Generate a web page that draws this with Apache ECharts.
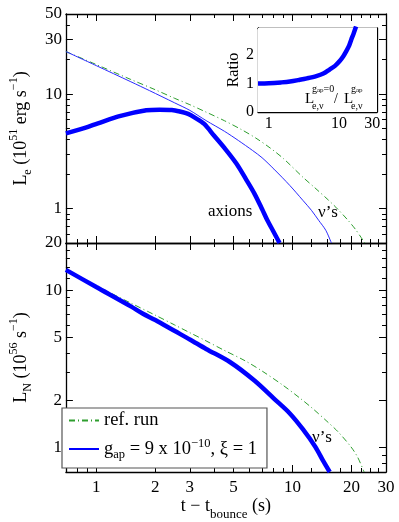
<!DOCTYPE html>
<html>
<head>
<meta charset="utf-8">
<script src="https://cdn.jsdelivr.net/npm/echarts@6/dist/echarts.min.js"></script>
<style>
  html, body { margin: 0; padding: 0; background: #fff; }
  #chart { width: 399px; height: 522px; }
</style>
</head>
<body>
<div id="chart"></div>
<script>
// upper panel: electron luminosity, 10^51 erg/s
const refTopT = [0.7, 1, 1.5, 2, 2.5, 3, 3.6, 4.5, 5.5, 6.5, 7.7, 9, 11.3, 13, 15.3, 17, 19.2, 21, 23.4];
const refTopL = [23.5, 18.1, 13.4, 10.9, 9.2, 8.07, 7.0, 5.85, 4.89, 4.13, 3.38, 2.73, 1.88, 1.52, 1.18, 0.99, 0.79, 0.655, 0.5];
const nuTopT = [0.7, 1, 1.5, 1.87, 2.5, 3, 3.63, 4.5, 5.3, 6.27, 7, 8.05, 9.7, 11.3, 12.5, 13.6, 14.8, 15.8];
const nuTopL = [23.5, 17.7, 12.8, 10.7, 8.4, 7.2, 5.86, 4.73, 3.93, 3.21, 2.78, 2.21, 1.59, 1.18, 0.965, 0.79, 0.645, 0.5];
const axTopT = [0.7, 0.875, 1.02, 1.33, 1.8, 2.1, 2.43, 2.7, 2.94, 3.18, 3.55, 3.98, 4.54, 5.19, 5.8, 6.4, 7.0, 7.45, 8.0, 8.6];
const axTopL = [4.54, 5.06, 5.55, 6.45, 7.21, 7.3, 7.26, 7.0, 6.7, 6.22, 5.48, 4.34, 3.32, 2.46, 1.8, 1.35, 0.99, 0.79, 0.63, 0.5];

// lower panel: number luminosity, 10^56 /s
const refBotT = [0.7, 1, 1.5, 2, 2.5, 3, 3.63, 4.5, 5.73, 7, 9, 11, 12.7, 15, 17.1, 19.9, 21.5, 23.2];
const refBotL = [13.5, 10.7, 8.3, 6.95, 6.04, 5.38, 4.77, 4.15, 3.57, 3.07, 2.48, 2.05, 1.77, 1.47, 1.26, 1.01, 0.87, 0.7];
const gapBotT = [0.7, 1, 1.5, 1.73, 2, 2.5, 3, 3.63, 4.82, 6.4, 8.05, 9.7, 11.3, 13.1, 14.3, 15.5];
const gapBotL = [13.5, 10.5, 7.91, 7.1, 6.47, 5.53, 4.87, 4.24, 3.49, 2.67, 2.05, 1.65, 1.31, 1.01, 0.83, 0.7];

// inset: ratio ref / axion run
const ratioT = [0.7, 1, 1.5, 2, 2.76, 3.5, 4.76, 6, 7.36, 8.8, 10.2, 11.5, 12.7, 14, 15, 16.2, 17.3, 17.6];
const ratioV = [1.0, 1.01, 1.04, 1.07, 1.13, 1.18, 1.26, 1.35, 1.49, 1.62, 1.78, 1.95, 2.13, 2.33, 2.54, 2.75, 2.95, 3.0];

// ticks
const xLabels = [1, 2, 3, 5, 10, 20, 30];
const xMajor = [1, 2, 3, 5, 10, 20];
const xMinor = [0.8, 0.9, 4, 6, 7, 8, 9, 12.5, 15, 17.5, 22.5, 25, 27.5];
const topYLabels = [1, 10, 30, 50];
const topYMajor = [1, 10, 30];
const topYMinor = [0.6, 0.7, 0.8, 0.9, 2, 3, 4, 5, 6, 7, 8, 9, 20, 40];
const botYLabels = [1, 2, 5, 10, 20];
const botYMajor = [1, 2, 5, 10];
const botYMinor = [0.8, 0.9, 3, 4, 6, 7, 8, 9, 12, 14, 16, 18];
const inXLabels = [1, 10, 30];
const inXMajor = [1, 10, 30];
const inXMinor = [0.8, 0.9, 2, 3, 4, 5, 6, 7, 8, 9, 20];
const inYLabels = [0, 1, 2];
const inYMajor = [1, 2];

const serif = 'Liberation Serif';
const green = '#2e9e2e';
const blue = '#0000ff';

const pts = (t, v) => t.map((x, i) => [x, v[i]]);

function ax(type, grid, pos, min, max, ticks, len, showLine, labels, fs) {
  return {
    type: type, gridIndex: grid, position: pos, min: min, max: max,
    axisLine: {show: showLine, onZero: false, lineStyle: {color: '#000', width: 1.3}},
    axisTick: {show: true, inside: true, length: len, customValues: ticks, lineStyle: {color: '#000', width: 1}},
    axisLabel: labels ? {
      show: true, customValues: labels, margin: 4, color: '#000',
      fontFamily: serif, fontSize: fs || 17, formatter: v => String(v)
    } : {show: false},
    splitLine: {show: false}
  };
}

const xAxes = [
  ax('log', 0, 'bottom', 0.7, 30, xMajor, 7, true),
  ax('log', 0, 'bottom', 0.7, 30, xMinor, 4, false),
  ax('log', 0, 'top', 0.7, 30, xMajor, 7, true),
  ax('log', 0, 'top', 0.7, 30, xMinor, 4, false),
  ax('log', 1, 'bottom', 0.7, 30, xMajor, 7, true, xLabels),
  ax('log', 1, 'bottom', 0.7, 30, xMinor, 4, false),
  ax('log', 1, 'top', 0.7, 30, xMajor, 7, true),
  ax('log', 1, 'top', 0.7, 30, xMinor, 4, false),
  ax('log', 2, 'bottom', 0.7, 35, inXMajor, 5, true, inXLabels, 16),
  ax('log', 2, 'bottom', 0.7, 35, inXMinor, 3, false),
  ax('log', 2, 'top', 0.7, 35, inXMajor, 5, true)
];
xAxes[4].axisLabel.margin = 7;
xAxes[4].name = '{b|t − t}{s|bounce}{b| (s)}';
xAxes[4].nameLocation = 'middle';
xAxes[4].nameGap = 23;
xAxes[4].nameTextStyle = {
  fontFamily: serif, color: '#000',
  rich: {
    b: {fontFamily: serif, fontSize: 18, color: '#000', lineHeight: 22},
    s: {fontFamily: serif, fontSize: 13, color: '#000', verticalAlign: 'bottom', lineHeight: 22, padding: [0, 0, -4, 0]}
  }
};

const yAxes = [
  ax('log', 0, 'left', 0.5, 50, topYMajor, 7, true, topYLabels),
  ax('log', 0, 'left', 0.5, 50, topYMinor, 4, false),
  ax('log', 0, 'right', 0.5, 50, topYMajor, 7, true),
  ax('log', 0, 'right', 0.5, 50, topYMinor, 4, false),
  ax('log', 1, 'left', 0.7, 20, botYMajor, 7, true, botYLabels),
  ax('log', 1, 'left', 0.7, 20, botYMinor, 4, false),
  ax('log', 1, 'right', 0.7, 20, botYMajor, 7, true),
  ax('log', 1, 'right', 0.7, 20, botYMinor, 4, false),
  ax('value', 2, 'left', 0, 2.95, inYMajor, 5, true, inYLabels, 16),
  ax('value', 2, 'right', 0, 2.95, inYMajor, 5, true)
];

const titleRich = {
  b: {fontFamily: serif, fontSize: 18, color: '#000', lineHeight: 26},
  s: {fontFamily: serif, fontSize: 12, color: '#000', verticalAlign: 'bottom', lineHeight: 26},
  p: {fontFamily: serif, fontSize: 12, color: '#000', verticalAlign: 'top', lineHeight: 26}
};
yAxes[0].name = '{b|L}{s|e}{b| (10}{p|51}{b| erg s}{p|−1}{b|)}';
yAxes[4].name = '{b|L}{s|N}{b| (10}{p|56}{b| s}{p|−1}{b|)}';
[0, 4].forEach(i => {
  yAxes[i].nameLocation = 'middle';
  yAxes[i].nameRotate = 90;
  yAxes[i].nameGap = 22;
  yAxes[i].nameTextStyle = {fontFamily: serif, color: '#000', rich: titleRich};
});
yAxes[8].name = 'Ratio';
yAxes[8].nameLocation = 'middle';
yAxes[8].nameRotate = 90;
yAxes[8].nameGap = 14;
yAxes[8].nameTextStyle = {fontFamily: serif, fontSize: 16, color: '#000'};

function line(name, x, y, data, color, width, dash, z) {
  return {
    name: name, type: 'line', xAxisIndex: x, yAxisIndex: y, data: data,
    symbol: 'none', smooth: 0.3, z: z || 2, silent: true,
    lineStyle: {color: color, width: width, type: dash || 'solid'},
    itemStyle: {color: color}
  };
}

const scriptText = (txt, x, y, size) => ({
  type: 'text', x: x, y: y, z: 10,
  style: {text: txt, fontFamily: serif, fontSize: size, fill: '#000', textVerticalAlign: 'middle'}
});
const richText = (txt, x, y) => ({
  type: 'text', x: x, y: y, z: 10,
  style: {
    text: txt, fontFamily: serif, fill: '#000', textVerticalAlign: 'middle',
    rich: {
      a: {fontFamily: serif, fontSize: 10, fill: '#000'},
      b: {fontFamily: serif, fontSize: 7, fill: '#000', verticalAlign: 'bottom'}
    }
  }
});

const chart = echarts.init(document.getElementById('chart'), null, {renderer: 'canvas'});
chart.setOption({
  animation: false,
  backgroundColor: '#fff',
  grid: [
    {left: 55, top: 14, width: 331, height: 229},
    {left: 55, top: 243, width: 331, height: 230},
    {left: 258, top: 28, width: 119, height: 84, backgroundColor: '#fff', show: true, borderWidth: 0, z: 5}
  ],
  xAxis: xAxes,
  yAxis: yAxes,
  legend: {
    left: 62, top: 408, orient: 'vertical',
    data: ['ref. run', 'gap'],
    itemWidth: 30, itemHeight: 14, itemGap: 7,
    padding: [3, 10, 7, 6],
    backgroundColor: '#fff', borderColor: '#555', borderWidth: 1.2,
    itemStyle: {opacity: 0},
    formatter: n => n === 'gap' ? '{t|g}{s|ap}{t| = 9 x 10}{p|−10}{t|, ξ = 1}' : '{t|ref. run}',
    textStyle: {
      color: '#000', fontFamily: serif, fontSize: 18,
      rich: {
        t: {fontFamily: serif, fontSize: 18.5, color: '#000', lineHeight: 24},
        s: {fontFamily: serif, fontSize: 12.5, color: '#000', verticalAlign: 'bottom', lineHeight: 24},
        p: {fontFamily: serif, fontSize: 12.5, color: '#000', verticalAlign: 'top', lineHeight: 24}
      }
    }
  },
  series: [
    line('ref. run', 0, 0, pts(refTopT, refTopL), green, 1, [6, 3, 1, 3]),
    line('nu', 0, 0, pts(nuTopT, nuTopL), '#2a2aff', 1),
    line('axions', 0, 0, pts(axTopT, axTopL), blue, 4.5, null, 3),
    line('ref. run', 4, 4, pts(refBotT, refBotL), green, 1, [6, 3, 1, 3]),
    line('gap', 4, 4, pts(gapBotT, gapBotL), blue, 4.5, null, 3),
    Object.assign(line('ratio', 8, 8, pts(ratioT, ratioV), blue, 4.5, null, 6), {z: 6})
  ],
  graphic: [
    scriptText('axions', 208, 212, 17),
    scriptText('ν’s', 318, 213, 17),
    scriptText('ν’s', 312, 438, 17),
    scriptText('L', 305, 99, 15),
    richText('{a|g}{b|ap}{a|=0}', 312, 89),
    scriptText('e,ν', 312, 106, 10),
    scriptText('/', 334, 99, 14),
    scriptText('L', 344, 99, 15),
    richText('{a|g}{b|ap}', 351, 89),
    scriptText('e,ν', 351, 106, 10)
  ]
});
</script>
</body>
</html>
